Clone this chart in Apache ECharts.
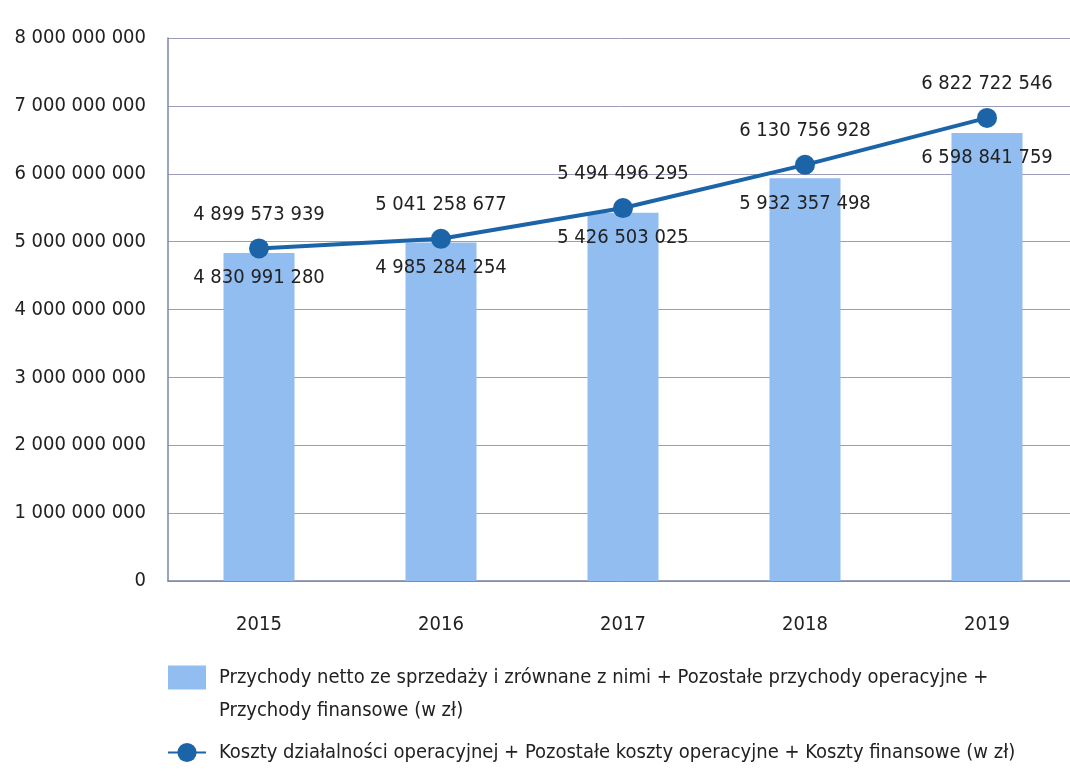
<!DOCTYPE html>
<html><head><meta charset="utf-8">
<script src="https://cdn.jsdelivr.net/npm/echarts@6/dist/echarts.min.js"></script>
<style>html,body{margin:0;padding:0;background:#fff}#c{width:1070px;height:776px}</style>
</head><body><div id="c"></div>
<script>
const categories = ['2015', '2016', '2017', '2018', '2019'];
const revenues = [4830991280, 4985284254, 5426503025, 5932357498, 6598841759];
const costs = [4899573939, 5041258677, 5494496295, 6130756928, 6822722546];
const barName = 'Przychody netto ze sprzedaży i zrównane z nimi + Pozostałe przychody operacyjne +\nPrzychody finansowe (w zł)';
const lineName = 'Koszty działalności operacyjnej + Pozostałe koszty operacyjne + Koszty finansowe (w zł)';

const FONT = '"Liberation Sans Narrow", "DejaVu Sans Condensed", sans-serif';
function fmt(v) { return String(Math.round(v)).replace(/\B(?=(\d{3})+(?!\d))/g, ' '); }

const chart = echarts.init(document.getElementById('c'));
chart.setOption({
  animation: false,
  textStyle: { fontFamily: FONT },
  grid: { left: 168, top: 38, width: 910, bottom: 195, containLabel: false, outerBoundsMode: 'none' },
  xAxis: {
    type: 'category', data: categories,
    axisLine: { lineStyle: { color: '#7e84a6', width: 1.5 } },
    axisTick: { show: false },
    axisLabel: { color: '#222', fontSize: 20, margin: 34, fontFamily: FONT }
  },
  yAxis: {
    type: 'value', min: 0, max: 8000000000, interval: 1000000000,
    axisLine: { show: true, lineStyle: { color: '#7e84a6', width: 1.5 } },
    axisTick: { show: false },
    splitLine: { lineStyle: { color: '#9a9cb8', width: 1 } },
    axisLabel: { color: '#222', fontSize: 20, margin: 22, fontFamily: FONT, formatter: fmt }
  },
  legend: {
    orient: 'vertical', left: 162, top: 623, itemGap: 9,
    itemWidth: 38, itemHeight: 24,
    textStyle: { color: '#222', fontSize: 20, lineHeight: 33, fontFamily: FONT, padding: [0, 0, 0, 8] },
    formatter: name => name === barName ? ' \n' + name : name,
    data: [
      { name: barName, icon: 'rect' },
      { name: lineName }
    ]
  },
  series: [
    {
      name: barName, type: 'bar', data: revenues, barWidth: 71,
      itemStyle: { color: '#92bdf0' },
      label: { show: true, position: 'insideTop', distance: 15, color: '#222', fontSize: 20, fontFamily: FONT, formatter: p => fmt(p.value) },
      z: 2
    },
    {
      name: lineName, type: 'line', data: costs,
      symbol: 'circle', symbolSize: 20,
      lineStyle: { color: '#1b64a8', width: 4 },
      itemStyle: { color: '#1b64a8' },
      label: { show: true, position: 'top', distance: 14, color: '#222', fontSize: 20, fontFamily: FONT, formatter: p => fmt(p.value) },
      z: 3
    }
  ]
});
</script></body></html>
